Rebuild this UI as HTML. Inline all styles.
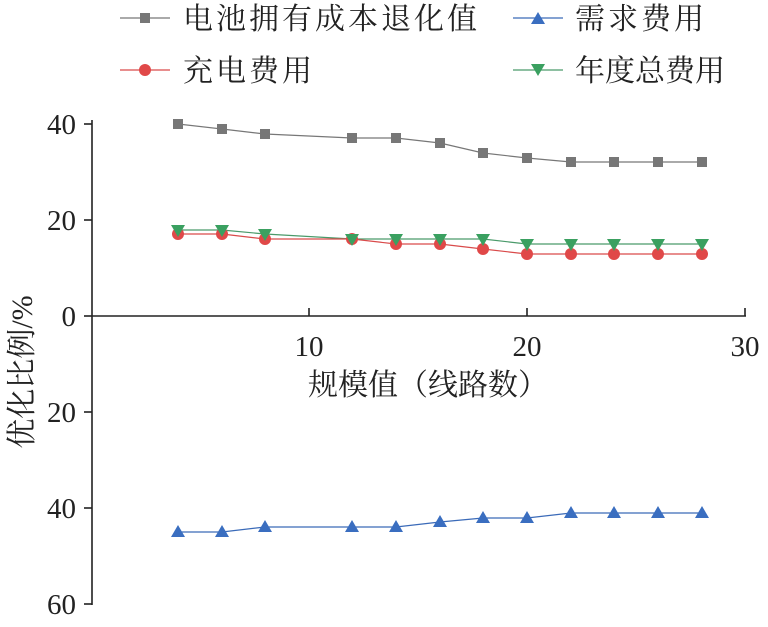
<!DOCTYPE html>
<html><head><meta charset="utf-8"><style>html,body{margin:0;padding:0;background:#fff}svg{display:block}</style></head>
<body>
<svg width="768" height="627" viewBox="0 0 768 627" xmlns="http://www.w3.org/2000/svg" font-family="'Liberation Serif','Noto Serif CJK SC',serif" font-size="29" fill="#222">
<g stroke="#222" stroke-width="1.6" fill="none">
<line x1="92" y1="316" x2="746" y2="316"/>
<line x1="92" y1="120" x2="92" y2="605"/>
<line x1="84" y1="124" x2="92" y2="124"/>
<line x1="84" y1="220" x2="92" y2="220"/>
<line x1="84" y1="316" x2="92" y2="316"/>
<line x1="84" y1="412" x2="92" y2="412"/>
<line x1="84" y1="508" x2="92" y2="508"/>
<line x1="84" y1="604" x2="92" y2="604"/>
<line x1="309" y1="308" x2="309" y2="316"/>
<line x1="527" y1="308" x2="527" y2="316"/>
<line x1="745" y1="308" x2="745" y2="316"/>
</g>
<g text-anchor="end">
<text x="76" y="134">40</text><text x="76" y="230">20</text><text x="76" y="326">0</text>
<text x="76" y="422">20</text><text x="76" y="518">40</text><text x="76" y="614">60</text>
</g>
<g text-anchor="middle">
<text x="309" y="356">10</text><text x="527" y="356">20</text><text x="745" y="356">30</text>
<text x="428" y="395" font-size="30">规模值（线路数）</text>
<text transform="translate(32,372) rotate(-90)" font-size="30">优化比例/%</text>
</g>
<polyline fill="none" stroke="#777" stroke-width="1.2" points="178,124 222,129 265,134 352,138 396,138 440,143 483,153 527,158 571,162 614,162 658,162 702,162"/>
<g fill="#777">
<rect x="173" y="119" width="10" height="10"/><rect x="217" y="124" width="10" height="10"/><rect x="260" y="129" width="10" height="10"/><rect x="347" y="133" width="10" height="10"/><rect x="391" y="133" width="10" height="10"/><rect x="435" y="138" width="10" height="10"/><rect x="478" y="148" width="10" height="10"/><rect x="522" y="153" width="10" height="10"/><rect x="566" y="157" width="10" height="10"/><rect x="609" y="157" width="10" height="10"/><rect x="653" y="157" width="10" height="10"/><rect x="697" y="157" width="10" height="10"/>
</g>
<polyline fill="none" stroke="#4a9a6a" stroke-width="1.2" points="178,230 222,230 265,234 352,239 396,239 440,239 483,239 527,244 571,244 614,244 658,244 702,244"/>
<polyline fill="none" stroke="#d94a4a" stroke-width="1.2" points="178,234 222,234 265,239 352,239 396,244 440,244 483,249 527,254 571,254 614,254 658,254 702,254"/>
<g fill="#e04848">
<circle cx="178" cy="234" r="6"/><circle cx="222" cy="234" r="6"/><circle cx="265" cy="239" r="6"/><circle cx="352" cy="239" r="6"/><circle cx="396" cy="244" r="6"/><circle cx="440" cy="244" r="6"/><circle cx="483" cy="249" r="6"/><circle cx="527" cy="254" r="6"/><circle cx="571" cy="254" r="6"/><circle cx="614" cy="254" r="6"/><circle cx="658" cy="254" r="6"/><circle cx="702" cy="254" r="6"/>
</g>
<g fill="#3aa060">
<path d="M171,225h14l-7,12z"/><path d="M215,225h14l-7,12z"/><path d="M258,229h14l-7,12z"/><path d="M345,234h14l-7,12z"/><path d="M389,234h14l-7,12z"/><path d="M433,234h14l-7,12z"/><path d="M476,234h14l-7,12z"/><path d="M520,239h14l-7,12z"/><path d="M564,239h14l-7,12z"/><path d="M607,239h14l-7,12z"/><path d="M651,239h14l-7,12z"/><path d="M695,239h14l-7,12z"/>
</g>
<polyline fill="none" stroke="#3a6ab8" stroke-width="1.2" points="178,532 222,532 265,527 352,527 396,527 440,522 483,518 527,518 571,513 614,513 658,513 702,513"/>
<g fill="#3a6ec0">
<path d="M171,537h14l-7,-12z"/><path d="M215,537h14l-7,-12z"/><path d="M258,532h14l-7,-12z"/><path d="M345,532h14l-7,-12z"/><path d="M389,532h14l-7,-12z"/><path d="M433,527h14l-7,-12z"/><path d="M476,523h14l-7,-12z"/><path d="M520,523h14l-7,-12z"/><path d="M564,518h14l-7,-12z"/><path d="M607,518h14l-7,-12z"/><path d="M651,518h14l-7,-12z"/><path d="M695,518h14l-7,-12z"/>
</g>
<g font-size="30" letter-spacing="3">
<line x1="120" y1="18" x2="170" y2="18" stroke="#777" stroke-width="1.2"/><rect x="140" y="13" width="10" height="10" fill="#777"/>
<text x="183" y="29">电池拥有成本退化值</text>
<line x1="513" y1="18" x2="563" y2="18" stroke="#3a6ab8" stroke-width="1.2"/><path d="M531,24h14l-7,-12z" fill="#3a6ec0"/>
<text x="575" y="29">需求费用</text>
<line x1="120" y1="70" x2="170" y2="70" stroke="#d94a4a" stroke-width="1.2"/><circle cx="145" cy="70" r="6" fill="#e04848"/>
<text x="183" y="81">充电费用</text>
<line x1="513" y1="70" x2="563" y2="70" stroke="#4a9a6a" stroke-width="1.2"/><path d="M531,64h14l-7,12z" fill="#3aa060"/>
<text x="575" y="81" letter-spacing="0">年度总费用</text>
</g>
</svg>
</body></html>
